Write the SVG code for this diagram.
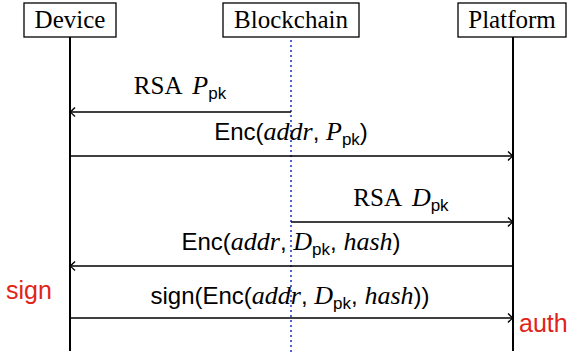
<svg xmlns="http://www.w3.org/2000/svg" width="570" height="355" viewBox="0 0 570 355">
<style>
.box{fill:#fff;stroke:#000;stroke-width:1.3}
.lbl{font-family:"Liberation Serif","Times New Roman",serif;font-size:25px;fill:#000;text-anchor:middle}
.life{stroke:#000;stroke-width:2;fill:none}
.chain{stroke:#2a3fc4;stroke-width:2.2;stroke-dasharray:0 5;stroke-linecap:round;fill:none}
.msg{stroke:#000;stroke-width:1.6;fill:none;marker-end:url(#ah)}
.t{font-family:"Liberation Sans",Arial,sans-serif;font-size:24px;fill:#000;text-anchor:middle}
.rm{font-family:"Liberation Serif","Times New Roman",serif;font-size:25px}
.it{font-family:"Liberation Serif","Times New Roman",serif;font-style:italic;font-size:26px}
.sub{font-family:"Liberation Sans",Arial,sans-serif;font-size:17px}
.red{font-family:"Liberation Sans",Arial,sans-serif;font-size:25px;fill:#e2231a}
</style>
<defs>
<marker id="ah" markerUnits="userSpaceOnUse" markerWidth="12" markerHeight="12" refX="0" refY="0" viewBox="-8 -6 10 12" orient="auto">
<path d="M-5,-4.5 Q-1.5,-1 0,0 Q-1.5,1 -5,4.5" fill="none" stroke="#000" stroke-width="1.4"/>
</marker>
</defs>
<g id="device">
<rect class="box" x="24" y="3" width="92" height="34"/>
<text class="lbl" x="70" y="28">Device</text>
<line class="life" x1="70" y1="37" x2="70" y2="351"/>
</g>
<g id="blockchain">
<rect class="box" x="223" y="3" width="136" height="34"/>
<text class="lbl" x="291" y="28">Blockchain</text>
<line class="chain" x1="291" y1="41" x2="291" y2="355"/>
</g>
<g id="platform">
<rect class="box" x="458" y="3" width="108" height="34"/>
<text class="lbl" x="512" y="28">Platform</text>
<line class="life" x1="513" y1="37" x2="513" y2="351"/>
</g>
<g id="connectors">
<line class="msg" x1="291" y1="112" x2="70" y2="112"/>
<line class="msg" x1="70" y1="156" x2="513" y2="156"/>
<line class="msg" x1="291" y1="222" x2="513" y2="222"/>
<line class="msg" x1="513" y1="266" x2="70" y2="266"/>
<line class="msg" x1="70" y1="318" x2="513" y2="318"/>
</g>
<g id="labels">
<text class="t" x="180" y="94"><tspan class="rm">RSA </tspan><tspan class="it" dx="5">P</tspan><tspan class="sub" dy="5">pk</tspan></text>
<text class="t" x="291" y="140">Enc(<tspan class="it">addr</tspan>, <tspan class="it">P</tspan><tspan class="sub" dy="5">pk</tspan><tspan dy="-5">)</tspan></text>
<text class="t" x="401" y="206"><tspan class="rm">RSA </tspan><tspan class="it" dx="5">D</tspan><tspan class="sub" dy="5">pk</tspan></text>
<text class="t" x="291" y="250">Enc(<tspan class="it">addr</tspan>, <tspan class="it">D</tspan><tspan class="sub" dy="5">pk</tspan><tspan dy="-5">, </tspan><tspan class="it">hash</tspan>)</text>
<text class="t" x="290" y="304">sign(Enc(<tspan class="it">addr</tspan>, <tspan class="it">D</tspan><tspan class="sub" dy="5">pk</tspan><tspan dy="-5">, </tspan><tspan class="it">hash</tspan>))</text>
<text class="red" x="6" y="299">sign</text>
<text class="red" x="519" y="332">auth</text>
</g>
</svg>
